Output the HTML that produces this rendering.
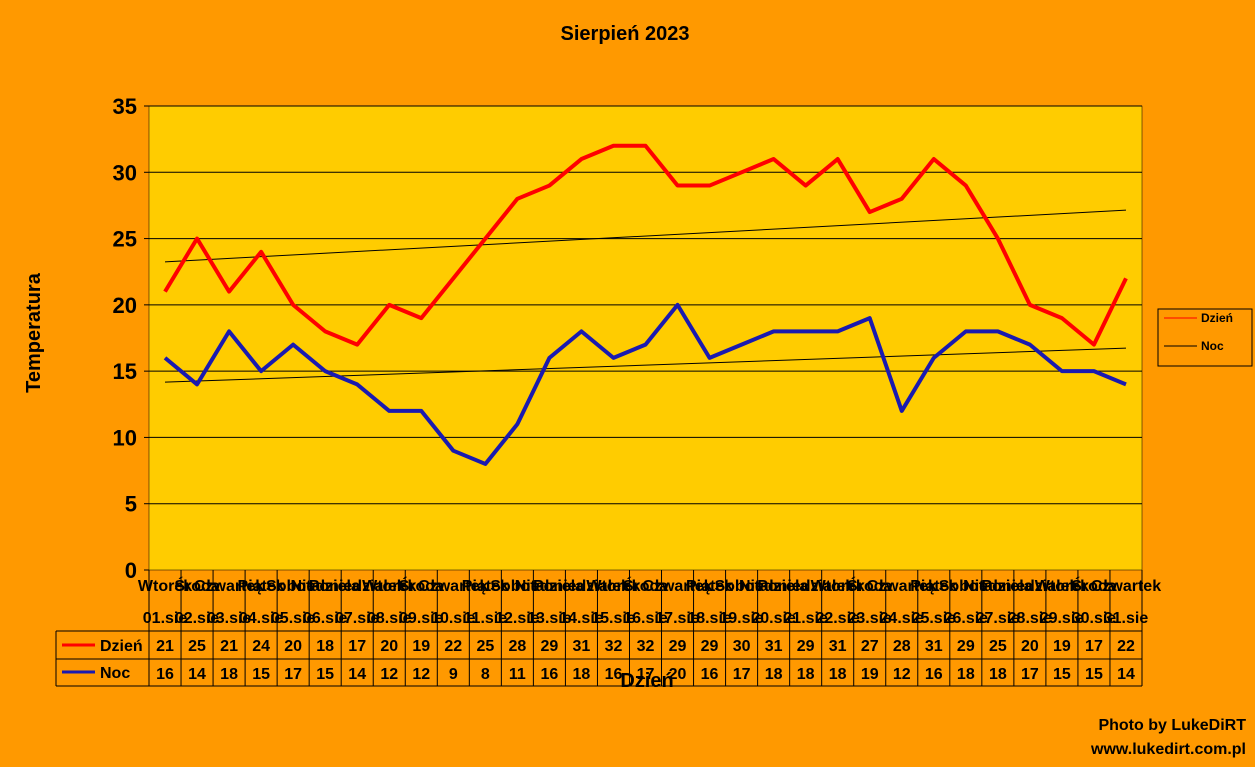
<!DOCTYPE html>
<html><head><meta charset="utf-8"><style>
body{margin:0;background:#FF9900;}
svg{display:block;font-family:"Liberation Sans",Arial,sans-serif;font-weight:bold;}
</style></head><body>
<svg id="c" width="1255" height="767">
<rect width="1255" height="767" fill="#FF9900"/>
<text x="625" y="40" font-size="20" text-anchor="middle">Sierpień 2023</text>
<text x="40" y="333" font-size="20" text-anchor="middle" transform="rotate(-90 40 333)">Temperatura</text>
<text x="647" y="687" font-size="20" text-anchor="middle">Dzień</text>
<text x="1246" y="730" font-size="16" text-anchor="end">Photo by LukeDiRT</text>
<text x="1246" y="754" font-size="16" text-anchor="end">www.lukedirt.com.pl</text>
<g id="plot"></g>
</svg>
<script>
const dayNames=["Wtorek","Środa","Czwartek","Piątek","Sobota","Niedziela","Poniedziałek"];
const dayValues=[21,25,21,24,20,18,17,20,19,22,25,28,29,31,32,32,29,29,30,31,29,31,27,28,31,29,25,20,19,17,22];
const nightValues=[16,14,18,15,17,15,14,12,12,9,8,11,16,18,16,17,20,16,17,18,18,18,19,12,16,18,18,17,15,15,14];
const yTicks=[0,5,10,15,20,25,30,35];
const NS="http://www.w3.org/2000/svg";
const g=document.getElementById('plot');
const L=149,R=1142,T=106,B=570,n=dayValues.length,cw=(R-L)/n;
const xs=i=>L+cw*(i+0.5);
const ys=v=>B-(v/35)*(B-T);
function mk(t,a,txt){const e=document.createElementNS(NS,t);for(const k in a)e.setAttribute(k,a[k]);if(txt!=null)e.textContent=txt;g.appendChild(e);return e;}
let e=mk('rect',{x:L,y:T,width:R-L,height:B-T,fill:'#FFCC00',stroke:'#000','stroke-width':0.5});


yTicks.forEach(v=>{
 if(v>0){const l=mk('line',{x1:L,x2:R,y1:ys(v),y2:ys(v),stroke:'#000','stroke-width':1});
 
 }
 const t=mk('text',{x:L-12,y:ys(v)+8,'font-size':22,'text-anchor':'end'},v);
 
 
 mk('line',{x1:L-5,x2:L,y1:ys(v),y2:ys(v),stroke:'#000'});
});
const rT=631,rM=659,rB=686;
for(let i=0;i<=n;i++){const x=L+cw*i;const l=mk('line',{x1:x,x2:x,y1:B,y2:rB,stroke:'#000','stroke-width':1});
 
 }
mk('line',{x1:56,x2:R,y1:rT,y2:rT,stroke:'#000'});
mk('line',{x1:56,x2:R,y1:rM,y2:rM,stroke:'#000'});
mk('line',{x1:56,x2:R,y1:rB,y2:rB,stroke:'#000'});
mk('line',{x1:56,x2:56,y1:rT,y2:rB,stroke:'#000'});
for(let i=0;i<n;i++){
 const x=xs(i);
 let t=mk('text',{x:x,y:591,'font-size':16,'text-anchor':'middle'},dayNames[i%7]);
 
 
 t=mk('text',{x:x,y:623,'font-size':16,'text-anchor':'middle'},String(i+1).padStart(2,'0')+'.sie');
 
 
 t=mk('text',{x:x,y:651,'font-size':16,'text-anchor':'middle'},dayValues[i]);
 
 
 t=mk('text',{x:x,y:679,'font-size':16,'text-anchor':'middle'},nightValues[i]);
 
 
}
mk('line',{x1:62,x2:95,y1:645,y2:645,stroke:'#FF0000','stroke-width':3});
e=mk('text',{x:100,y:651,'font-size':16},'Dzień');


mk('line',{x1:62,x2:95,y1:672,y2:672,stroke:'#1A1AB0','stroke-width':3});
e=mk('text',{x:100,y:678,'font-size':16},'Noc');


function trend(arr,name){
 const m=arr.length;let sx=0,sy=0,sxy=0,sxx=0;
 arr.forEach((v,i)=>{sx+=i;sy+=v;sxy+=i*v;sxx+=i*i;});
 const b=(m*sxy-sx*sy)/(m*sxx-sx*sx),a=(sy-b*sx)/m;
 const l=mk('line',{x1:xs(0),y1:ys(a),x2:xs(m-1),y2:ys(a+b*(m-1)),stroke:'#000','stroke-width':1});
 
 
}
trend(dayValues,'trend-day');
trend(nightValues,'trend-night');
function series(arr,col,name){
 const p=mk('polyline',{points:arr.map((v,i)=>xs(i)+','+ys(v)).join(' '),fill:'none',stroke:col,'stroke-width':4,'stroke-linejoin':'round'});
 
 
}
series(dayValues,'#FF0000','series-day');
series(nightValues,'#1A1AB0','series-night');
e=mk('rect',{x:1158,y:309,width:94,height:57,fill:'none',stroke:'#000'});


mk('line',{x1:1164,x2:1197,y1:318,y2:318,stroke:'#FF0000'});
e=mk('text',{x:1201,y:322,'font-size':12},'Dzień');


mk('line',{x1:1164,x2:1197,y1:346,y2:346,stroke:'#000'});
e=mk('text',{x:1201,y:350,'font-size':12},'Noc');


</script>
</body></html>
